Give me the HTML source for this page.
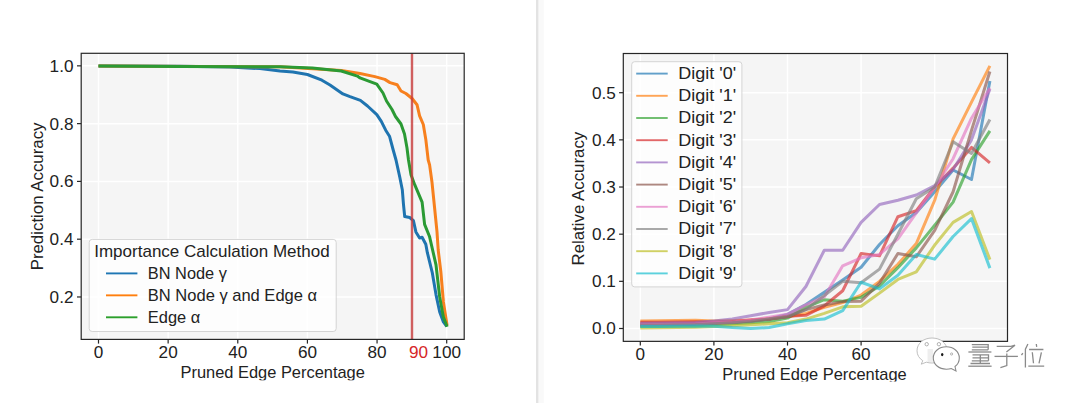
<!DOCTYPE html>
<html><head><meta charset="utf-8"><style>
html,body{margin:0;padding:0;background:#fff;width:1080px;height:403px;overflow:hidden}
svg{display:block}
text{font-family:"Liberation Sans",sans-serif}
</style></head><body>
<svg width="1080" height="403" viewBox="0 0 1080 403">
<rect width="1080" height="403" fill="#fff"/>
<rect x="81.2" y="53.3" width="383.0" height="286.09999999999997" fill="#f5f5f5"/>
<line x1="98.50" y1="53.3" x2="98.50" y2="339.4" stroke="#ffffff" stroke-width="1.5"/>
<line x1="168.14" y1="53.3" x2="168.14" y2="339.4" stroke="#ffffff" stroke-width="1.5"/>
<line x1="237.78" y1="53.3" x2="237.78" y2="339.4" stroke="#ffffff" stroke-width="1.5"/>
<line x1="307.42" y1="53.3" x2="307.42" y2="339.4" stroke="#ffffff" stroke-width="1.5"/>
<line x1="377.06" y1="53.3" x2="377.06" y2="339.4" stroke="#ffffff" stroke-width="1.5"/>
<line x1="446.70" y1="53.3" x2="446.70" y2="339.4" stroke="#ffffff" stroke-width="1.5"/>
<line x1="81.2" y1="296.97" x2="464.2" y2="296.97" stroke="#ffffff" stroke-width="1.5"/>
<line x1="81.2" y1="239.19" x2="464.2" y2="239.19" stroke="#ffffff" stroke-width="1.5"/>
<line x1="81.2" y1="181.41" x2="464.2" y2="181.41" stroke="#ffffff" stroke-width="1.5"/>
<line x1="81.2" y1="123.63" x2="464.2" y2="123.63" stroke="#ffffff" stroke-width="1.5"/>
<line x1="81.2" y1="65.85" x2="464.2" y2="65.85" stroke="#ffffff" stroke-width="1.5"/>
<polyline points="98.50,66.00 180.00,66.30 230.00,67.00 260.00,68.60 280.00,71.00 292.90,72.10 307.40,74.50 321.90,80.20 330.00,85.00 342.90,93.90 350.00,96.70 360.40,100.40 367.50,106.00 376.80,114.60 381.30,121.30 385.70,130.20 389.50,136.20 393.20,150.00 396.00,160.00 399.80,177.30 402.30,189.70 403.50,204.60 404.70,216.50 409.70,217.50 413.40,220.70 415.90,231.90 419.60,238.10 422.10,237.30 425.80,244.30 427.30,252.40 432.20,272.30 436.00,294.60 439.70,312.00 443.40,321.90 446.70,326.50" fill="none" stroke="#1f74b0" stroke-width="3.0" stroke-opacity="1.0" stroke-linejoin="round" stroke-linecap="butt"/>
<polyline points="98.50,66.00 280.00,66.80 341.30,70.50 360.00,73.50 374.90,76.60 384.80,79.40 390.00,82.60 397.20,84.80 401.00,91.00 405.90,93.50 412.10,98.50 417.00,104.70 419.60,115.80 423.30,124.50 425.80,139.40 428.20,160.00 429.60,164.90 432.00,182.30 434.50,207.00 437.00,231.90 438.20,250.00 440.90,272.30 443.40,302.00 447.10,325.60" fill="none" stroke="#f7801e" stroke-width="3.0" stroke-opacity="1.0" stroke-linejoin="round" stroke-linecap="butt"/>
<polyline points="98.50,66.00 180.00,66.50 280.00,66.80 312.30,68.10 341.30,71.00 357.40,76.10 360.00,77.90 376.80,84.20 383.00,93.00 386.50,101.00 392.00,109.50 395.50,116.50 401.00,124.00 404.50,134.00 407.00,148.00 408.50,160.00 411.00,174.80 414.70,184.70 422.10,202.10 424.60,224.40 429.60,236.80 436.00,264.80 439.70,297.00 443.40,317.00 447.10,326.80" fill="none" stroke="#2b9a34" stroke-width="3.0" stroke-opacity="1.0" stroke-linejoin="round" stroke-linecap="butt"/>
<line x1="412.0" y1="53.3" x2="412.0" y2="339.4" stroke="#c73a3a" stroke-width="2.4" stroke-opacity="0.8"/>
<rect x="89.2" y="239.4" width="247" height="92.1" rx="3" fill="#ffffff" fill-opacity="0.8" stroke="#d4d4d4" stroke-width="1"/>
<text x="94.23" y="256.80" font-size="15.7" text-anchor="start" fill="#222222" textLength="235.43" lengthAdjust="spacingAndGlyphs">Importance Calculation Method</text>
<line x1="106.0" y1="273.40" x2="137.4" y2="273.40" stroke="#1f77b4" stroke-width="1.9"/>
<text x="147.83" y="279.00" font-size="15.7" text-anchor="start" fill="#222222" textLength="79.07" lengthAdjust="spacingAndGlyphs">BN Node γ</text>
<line x1="106.0" y1="295.35" x2="137.4" y2="295.35" stroke="#ff7f0e" stroke-width="1.9"/>
<text x="147.83" y="300.95" font-size="15.7" text-anchor="start" fill="#222222" textLength="169.23" lengthAdjust="spacingAndGlyphs">BN Node γ and Edge α</text>
<line x1="106.0" y1="317.30" x2="137.4" y2="317.30" stroke="#2ca02c" stroke-width="1.9"/>
<text x="147.83" y="322.90" font-size="15.7" text-anchor="start" fill="#222222" textLength="52.41" lengthAdjust="spacingAndGlyphs">Edge α</text>
<rect x="81.2" y="53.3" width="383.0" height="286.09999999999997" fill="none" stroke="#262626" stroke-width="1.2"/>
<line x1="98.50" y1="339.4" x2="98.50" y2="343.59999999999997" stroke="#262626" stroke-width="1.2"/>
<text x="98.50" y="358.40" font-size="15.7" text-anchor="middle" fill="#222222" textLength="9.54" lengthAdjust="spacingAndGlyphs">0</text>
<line x1="168.14" y1="339.4" x2="168.14" y2="343.59999999999997" stroke="#262626" stroke-width="1.2"/>
<text x="168.14" y="358.40" font-size="15.7" text-anchor="middle" fill="#222222" textLength="19.09" lengthAdjust="spacingAndGlyphs">20</text>
<line x1="237.78" y1="339.4" x2="237.78" y2="343.59999999999997" stroke="#262626" stroke-width="1.2"/>
<text x="237.78" y="358.40" font-size="15.7" text-anchor="middle" fill="#222222" textLength="19.09" lengthAdjust="spacingAndGlyphs">40</text>
<line x1="307.42" y1="339.4" x2="307.42" y2="343.59999999999997" stroke="#262626" stroke-width="1.2"/>
<text x="307.42" y="358.40" font-size="15.7" text-anchor="middle" fill="#222222" textLength="19.09" lengthAdjust="spacingAndGlyphs">60</text>
<line x1="377.06" y1="339.4" x2="377.06" y2="343.59999999999997" stroke="#262626" stroke-width="1.2"/>
<text x="377.06" y="358.40" font-size="15.7" text-anchor="middle" fill="#222222" textLength="19.09" lengthAdjust="spacingAndGlyphs">80</text>
<line x1="446.70" y1="339.4" x2="446.70" y2="343.59999999999997" stroke="#262626" stroke-width="1.2"/>
<text x="446.70" y="358.40" font-size="15.7" text-anchor="middle" fill="#222222" textLength="28.63" lengthAdjust="spacingAndGlyphs">100</text>
<text x="418.50" y="358.40" font-size="15.7" text-anchor="middle" fill="#d62728" textLength="19.09" lengthAdjust="spacingAndGlyphs">90</text>
<line x1="77.0" y1="296.97" x2="81.2" y2="296.97" stroke="#262626" stroke-width="1.2"/>
<text x="73.50" y="302.87" font-size="15.7" text-anchor="end" fill="#222222" textLength="23.86" lengthAdjust="spacingAndGlyphs">0.2</text>
<line x1="77.0" y1="239.19" x2="81.2" y2="239.19" stroke="#262626" stroke-width="1.2"/>
<text x="73.50" y="245.09" font-size="15.7" text-anchor="end" fill="#222222" textLength="23.86" lengthAdjust="spacingAndGlyphs">0.4</text>
<line x1="77.0" y1="181.41" x2="81.2" y2="181.41" stroke="#262626" stroke-width="1.2"/>
<text x="73.50" y="187.31" font-size="15.7" text-anchor="end" fill="#222222" textLength="23.86" lengthAdjust="spacingAndGlyphs">0.6</text>
<line x1="77.0" y1="123.63" x2="81.2" y2="123.63" stroke="#262626" stroke-width="1.2"/>
<text x="73.50" y="129.53" font-size="15.7" text-anchor="end" fill="#222222" textLength="23.86" lengthAdjust="spacingAndGlyphs">0.8</text>
<line x1="77.0" y1="65.85" x2="81.2" y2="65.85" stroke="#262626" stroke-width="1.2"/>
<text x="73.50" y="71.75" font-size="15.7" text-anchor="end" fill="#222222" textLength="23.86" lengthAdjust="spacingAndGlyphs">1.0</text>
<text x="180.50" y="377.50" font-size="15.7" text-anchor="start" fill="#222222" textLength="184.38" lengthAdjust="spacingAndGlyphs">Pruned Edge Percentage</text>
<text x="43.40" y="270.30" font-size="15.7" text-anchor="start" fill="#222222" textLength="147.77" lengthAdjust="spacingAndGlyphs" transform="rotate(-90 43.40 270.30)">Prediction Accuracy</text>
<rect x="538.3" y="0" width="5.5" height="403" fill="#f9f9f9"/>
<rect x="536.0" y="0" width="2.4" height="403" fill="#e3e3e3"/>
<rect x="623.3" y="53.5" width="384.20000000000005" height="287.85" fill="#f5f5f5"/>
<line x1="640.30" y1="53.5" x2="640.30" y2="341.35" stroke="#ffffff" stroke-width="1.5"/>
<line x1="713.90" y1="53.5" x2="713.90" y2="341.35" stroke="#ffffff" stroke-width="1.5"/>
<line x1="787.50" y1="53.5" x2="787.50" y2="341.35" stroke="#ffffff" stroke-width="1.5"/>
<line x1="861.10" y1="53.5" x2="861.10" y2="341.35" stroke="#ffffff" stroke-width="1.5"/>
<line x1="934.70" y1="53.5" x2="934.70" y2="341.35" stroke="#ffffff" stroke-width="1.5"/>
<line x1="623.3" y1="328.50" x2="1007.5" y2="328.50" stroke="#ffffff" stroke-width="1.5"/>
<line x1="623.3" y1="281.34" x2="1007.5" y2="281.34" stroke="#ffffff" stroke-width="1.5"/>
<line x1="623.3" y1="234.18" x2="1007.5" y2="234.18" stroke="#ffffff" stroke-width="1.5"/>
<line x1="623.3" y1="187.02" x2="1007.5" y2="187.02" stroke="#ffffff" stroke-width="1.5"/>
<line x1="623.3" y1="139.86" x2="1007.5" y2="139.86" stroke="#ffffff" stroke-width="1.5"/>
<line x1="623.3" y1="92.70" x2="1007.5" y2="92.70" stroke="#ffffff" stroke-width="1.5"/>
<polyline points="640.30,324.26 658.70,324.02 677.10,323.78 695.50,323.55 713.90,322.84 732.30,322.37 750.70,320.95 769.10,319.07 787.50,314.35 805.90,304.45 824.30,292.19 842.70,279.93 861.10,267.19 879.50,244.56 897.90,225.69 916.30,212.49 934.70,191.74 953.10,170.04 971.50,179.47 989.90,80.91" fill="none" stroke="#1f77b4" stroke-width="3.0" stroke-opacity="0.65" stroke-linejoin="round" stroke-linecap="butt"/>
<polyline points="640.30,320.95 658.70,320.72 677.10,320.48 695.50,320.25 713.90,320.95 732.30,320.48 750.70,320.01 769.10,318.60 787.50,316.71 805.90,313.41 824.30,307.28 842.70,302.56 861.10,295.02 879.50,281.34 897.90,264.36 916.30,243.61 934.70,200.22 953.10,138.92 971.50,102.13 989.90,65.82" fill="none" stroke="#ff7f0e" stroke-width="3.0" stroke-opacity="0.65" stroke-linejoin="round" stroke-linecap="butt"/>
<polyline points="640.30,326.61 658.70,326.38 677.10,326.14 695.50,325.91 713.90,324.73 732.30,323.78 750.70,322.84 769.10,321.43 787.50,318.12 805.90,307.28 824.30,299.73 842.70,301.15 861.10,297.37 879.50,286.06 897.90,267.66 916.30,247.86 934.70,225.22 953.10,202.11 971.50,159.67 989.90,130.90" fill="none" stroke="#2ca02c" stroke-width="3.0" stroke-opacity="0.65" stroke-linejoin="round" stroke-linecap="butt"/>
<polyline points="640.30,322.37 658.70,322.13 677.10,321.90 695.50,321.66 713.90,321.90 732.30,321.43 750.70,320.01 769.10,319.07 787.50,316.24 805.90,315.30 824.30,305.86 842.70,290.77 861.10,253.52 879.50,255.87 897.90,216.73 916.30,210.60 934.70,187.02 953.10,168.16 971.50,147.41 989.90,162.97" fill="none" stroke="#d62728" stroke-width="3.0" stroke-opacity="0.65" stroke-linejoin="round" stroke-linecap="butt"/>
<polyline points="640.30,323.31 658.70,323.08 677.10,322.84 695.50,322.61 713.90,320.95 732.30,319.07 750.70,315.77 769.10,312.47 787.50,309.64 805.90,286.53 824.30,250.21 842.70,250.21 861.10,222.39 879.50,204.47 897.90,200.22 916.30,195.04 934.70,185.61 953.10,169.57 971.50,139.86 989.90,88.93" fill="none" stroke="#9467bd" stroke-width="3.0" stroke-opacity="0.65" stroke-linejoin="round" stroke-linecap="butt"/>
<polyline points="640.30,325.20 658.70,324.96 677.10,324.73 695.50,324.49 713.90,323.31 732.30,322.37 750.70,320.95 769.10,319.07 787.50,316.71 805.90,309.64 824.30,304.92 842.70,301.62 861.10,301.15 879.50,283.23 897.90,253.52 916.30,256.82 934.70,230.41 953.10,191.74 971.50,130.43 989.90,71.48" fill="none" stroke="#8c564b" stroke-width="3.0" stroke-opacity="0.65" stroke-linejoin="round" stroke-linecap="butt"/>
<polyline points="640.30,324.73 658.70,324.49 677.10,324.26 695.50,324.02 713.90,322.84 732.30,321.90 750.70,320.01 769.10,317.18 787.50,314.35 805.90,304.92 824.30,296.90 842.70,265.78 861.10,257.76 879.50,254.46 897.90,238.90 916.30,212.96 934.70,187.02 953.10,158.72 971.50,118.17 989.90,87.98" fill="none" stroke="#e377c2" stroke-width="3.0" stroke-opacity="0.65" stroke-linejoin="round" stroke-linecap="butt"/>
<polyline points="640.30,325.20 658.70,324.96 677.10,324.73 695.50,324.49 713.90,323.78 732.30,322.84 750.70,321.43 769.10,319.07 787.50,316.71 805.90,309.64 824.30,295.49 842.70,281.34 861.10,282.75 879.50,269.08 897.90,234.18 916.30,198.81 934.70,187.02 953.10,141.75 971.50,153.54 989.90,119.58" fill="none" stroke="#7f7f7f" stroke-width="3.0" stroke-opacity="0.65" stroke-linejoin="round" stroke-linecap="butt"/>
<polyline points="640.30,328.03 658.70,327.79 677.10,327.56 695.50,327.32 713.90,326.61 732.30,325.67 750.70,324.73 769.10,323.78 787.50,322.84 805.90,319.07 824.30,313.41 842.70,306.81 861.10,306.33 879.50,293.13 897.90,279.45 916.30,271.91 934.70,245.03 953.10,222.39 971.50,211.54 989.90,259.65" fill="none" stroke="#bcbd22" stroke-width="3.0" stroke-opacity="0.65" stroke-linejoin="round" stroke-linecap="butt"/>
<polyline points="640.30,326.61 658.70,326.38 677.10,326.14 695.50,325.91 713.90,326.14 732.30,327.56 750.70,328.50 769.10,327.56 787.50,323.78 805.90,320.48 824.30,319.07 842.70,310.58 861.10,282.28 879.50,288.89 897.90,275.21 916.30,254.46 934.70,259.17 953.10,236.54 971.50,218.62 989.90,268.14" fill="none" stroke="#17becf" stroke-width="3.0" stroke-opacity="0.65" stroke-linejoin="round" stroke-linecap="butt"/>
<rect x="631.7" y="61.7" width="110.2" height="225.2" rx="3" fill="#ffffff" fill-opacity="0.8" stroke="#d4d4d4" stroke-width="1"/>
<line x1="636.2" y1="73.60" x2="667.7" y2="73.60" stroke="#1f77b4" stroke-opacity="0.7" stroke-width="1.9"/>
<text x="678.33" y="78.90" font-size="15.7" text-anchor="start" fill="#222222" textLength="57.85" lengthAdjust="spacingAndGlyphs">Digit '0'</text>
<line x1="636.2" y1="95.80" x2="667.7" y2="95.80" stroke="#ff7f0e" stroke-opacity="0.7" stroke-width="1.9"/>
<text x="678.33" y="101.10" font-size="15.7" text-anchor="start" fill="#222222" textLength="57.85" lengthAdjust="spacingAndGlyphs">Digit '1'</text>
<line x1="636.2" y1="118.00" x2="667.7" y2="118.00" stroke="#2ca02c" stroke-opacity="0.7" stroke-width="1.9"/>
<text x="678.33" y="123.30" font-size="15.7" text-anchor="start" fill="#222222" textLength="57.85" lengthAdjust="spacingAndGlyphs">Digit '2'</text>
<line x1="636.2" y1="140.20" x2="667.7" y2="140.20" stroke="#d62728" stroke-opacity="0.7" stroke-width="1.9"/>
<text x="678.33" y="145.50" font-size="15.7" text-anchor="start" fill="#222222" textLength="57.85" lengthAdjust="spacingAndGlyphs">Digit '3'</text>
<line x1="636.2" y1="162.40" x2="667.7" y2="162.40" stroke="#9467bd" stroke-opacity="0.7" stroke-width="1.9"/>
<text x="678.33" y="167.70" font-size="15.7" text-anchor="start" fill="#222222" textLength="57.85" lengthAdjust="spacingAndGlyphs">Digit '4'</text>
<line x1="636.2" y1="184.60" x2="667.7" y2="184.60" stroke="#8c564b" stroke-opacity="0.7" stroke-width="1.9"/>
<text x="678.33" y="189.90" font-size="15.7" text-anchor="start" fill="#222222" textLength="57.85" lengthAdjust="spacingAndGlyphs">Digit '5'</text>
<line x1="636.2" y1="206.80" x2="667.7" y2="206.80" stroke="#e377c2" stroke-opacity="0.7" stroke-width="1.9"/>
<text x="678.33" y="212.10" font-size="15.7" text-anchor="start" fill="#222222" textLength="57.85" lengthAdjust="spacingAndGlyphs">Digit '6'</text>
<line x1="636.2" y1="229.00" x2="667.7" y2="229.00" stroke="#7f7f7f" stroke-opacity="0.7" stroke-width="1.9"/>
<text x="678.33" y="234.30" font-size="15.7" text-anchor="start" fill="#222222" textLength="57.85" lengthAdjust="spacingAndGlyphs">Digit '7'</text>
<line x1="636.2" y1="251.20" x2="667.7" y2="251.20" stroke="#bcbd22" stroke-opacity="0.7" stroke-width="1.9"/>
<text x="678.33" y="256.50" font-size="15.7" text-anchor="start" fill="#222222" textLength="57.85" lengthAdjust="spacingAndGlyphs">Digit '8'</text>
<line x1="636.2" y1="273.40" x2="667.7" y2="273.40" stroke="#17becf" stroke-opacity="0.7" stroke-width="1.9"/>
<text x="678.33" y="278.70" font-size="15.7" text-anchor="start" fill="#222222" textLength="57.85" lengthAdjust="spacingAndGlyphs">Digit '9'</text>
<rect x="623.3" y="53.5" width="384.20000000000005" height="287.85" fill="none" stroke="#262626" stroke-width="1.2"/>
<line x1="640.30" y1="341.35" x2="640.30" y2="345.55" stroke="#262626" stroke-width="1.2"/>
<text x="640.30" y="360.35" font-size="15.7" text-anchor="middle" fill="#222222" textLength="9.54" lengthAdjust="spacingAndGlyphs">0</text>
<line x1="713.90" y1="341.35" x2="713.90" y2="345.55" stroke="#262626" stroke-width="1.2"/>
<text x="713.90" y="360.35" font-size="15.7" text-anchor="middle" fill="#222222" textLength="19.09" lengthAdjust="spacingAndGlyphs">20</text>
<line x1="787.50" y1="341.35" x2="787.50" y2="345.55" stroke="#262626" stroke-width="1.2"/>
<text x="787.50" y="360.35" font-size="15.7" text-anchor="middle" fill="#222222" textLength="19.09" lengthAdjust="spacingAndGlyphs">40</text>
<line x1="861.10" y1="341.35" x2="861.10" y2="345.55" stroke="#262626" stroke-width="1.2"/>
<text x="861.10" y="360.35" font-size="15.7" text-anchor="middle" fill="#222222" textLength="19.09" lengthAdjust="spacingAndGlyphs">60</text>
<line x1="934.70" y1="341.35" x2="934.70" y2="345.55" stroke="#262626" stroke-width="1.2"/>
<text x="934.70" y="360.35" font-size="15.7" text-anchor="middle" fill="#222222" textLength="19.09" lengthAdjust="spacingAndGlyphs">80</text>
<line x1="619.0999999999999" y1="328.50" x2="623.3" y2="328.50" stroke="#262626" stroke-width="1.2"/>
<text x="615.80" y="334.40" font-size="15.7" text-anchor="end" fill="#222222" textLength="23.86" lengthAdjust="spacingAndGlyphs">0.0</text>
<line x1="619.0999999999999" y1="281.34" x2="623.3" y2="281.34" stroke="#262626" stroke-width="1.2"/>
<text x="615.80" y="287.24" font-size="15.7" text-anchor="end" fill="#222222" textLength="23.86" lengthAdjust="spacingAndGlyphs">0.1</text>
<line x1="619.0999999999999" y1="234.18" x2="623.3" y2="234.18" stroke="#262626" stroke-width="1.2"/>
<text x="615.80" y="240.08" font-size="15.7" text-anchor="end" fill="#222222" textLength="23.86" lengthAdjust="spacingAndGlyphs">0.2</text>
<line x1="619.0999999999999" y1="187.02" x2="623.3" y2="187.02" stroke="#262626" stroke-width="1.2"/>
<text x="615.80" y="192.92" font-size="15.7" text-anchor="end" fill="#222222" textLength="23.86" lengthAdjust="spacingAndGlyphs">0.3</text>
<line x1="619.0999999999999" y1="139.86" x2="623.3" y2="139.86" stroke="#262626" stroke-width="1.2"/>
<text x="615.80" y="145.76" font-size="15.7" text-anchor="end" fill="#222222" textLength="23.86" lengthAdjust="spacingAndGlyphs">0.4</text>
<line x1="619.0999999999999" y1="92.70" x2="623.3" y2="92.70" stroke="#262626" stroke-width="1.2"/>
<text x="615.80" y="98.60" font-size="15.7" text-anchor="end" fill="#222222" textLength="23.86" lengthAdjust="spacingAndGlyphs">0.5</text>
<text x="722.30" y="380.20" font-size="15.7" text-anchor="start" fill="#222222" textLength="184.38" lengthAdjust="spacingAndGlyphs">Pruned Edge Percentage</text>
<text x="584.40" y="265.50" font-size="15.7" text-anchor="start" fill="#222222" textLength="133.74" lengthAdjust="spacingAndGlyphs" transform="rotate(-90 584.40 265.50)">Relative Accuracy</text>
<rect x="560" y="381.5" width="520" height="22" fill="#ffffff"/>
<rect x="100" y="380.3" width="400" height="24" fill="#ffffff"/>
<g id="wm">
<path d="M947,350.5 C947,343 940.3,338 932,338 C923.7,338 917,343.3 917,350.8 C917,355 919.3,358.5 922.8,360.7 L921.2,364.2 L926.3,362.2 C928.1,362.7 930,363 932,363 C940.3,363 947,357.8 947,350.5 Z" fill="#ffffff" stroke="#b8b8b8" stroke-width="0.9"/>
<circle cx="926.7" cy="344.2" r="1.7" fill="#fff" stroke="#a8a8a8" stroke-width="0.9"/>
<circle cx="938.9" cy="344.2" r="1.7" fill="#fff" stroke="#a8a8a8" stroke-width="0.9"/>
<rect x="927.5" y="349" width="5.5" height="13" fill="#ececec" opacity="0.9"/>
<path d="M959.3,358 C959.3,351.5 953.5,346.8 946.3,346.8 C939,346.8 933.3,351.5 933.3,358 C933.3,364.5 939,369.2 946.3,369.2 C948,369.2 949.8,369 951.3,368.5 L956,371 L955,366.5 C957.7,364.5 959.3,361.5 959.3,358 Z" fill="#ffffff" stroke="#8a8a8a" stroke-width="1.1"/>
<ellipse cx="942.2" cy="354.6" rx="1.2" ry="1.7" fill="#1a1a1a"/>
<circle cx="951.6" cy="354" r="1.1" fill="#fff" stroke="#a0a0a0" stroke-width="0.8"/>
<g stroke="#8a8a8a" stroke-width="1.3" fill="none" stroke-linecap="butt">
<path d="M971.8,344.6 H988.2 V349.8 M972.3,347.2 H988 M971.8,349.8 H988.2"/>
<path d="M968.4,352 H991.4"/>
<path d="M972.5,354.9 H988.5 V360.8 M972.5,357.9 H988.5 M971.8,360.8 H988.5 M980.3,354.9 V363.5 M970.5,363.5 H990"/>
<path d="M968.3,366.2 H991.6"/>
<path d="M996.7,346.3 H1011 L1015,345.2 L1006.4,351.9"/>
<path d="M994.5,356.4 H1017.9"/>
<path d="M1006.8,353.4 V365.6 L1000.4,367.6"/>
<path d="M1027.9,344 L1025.4,349.1 V367.4 M1021.5,355.2 L1022.8,353.2"/>
<path d="M1036.3,344 L1036.7,346.9 M1029.1,349.5 H1043.4 M1032.3,352.3 L1033.5,363.2 M1041.4,352.3 L1039,363.4 M1028.3,366.2 H1044.2"/>
</g>
</g>

</svg></body></html>
